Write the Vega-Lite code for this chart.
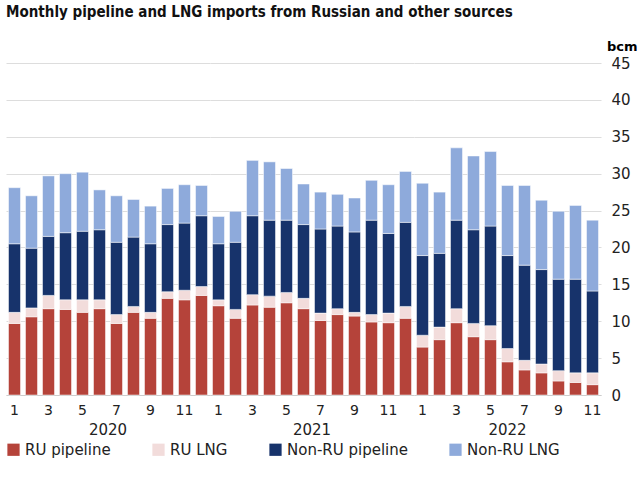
{
  "$schema": "https://vega.github.io/schema/vega-lite/v6.json",
  "title": {"text": "Monthly pipeline and LNG imports from Russian and other sources", "anchor": "start", "fontSize": 15, "font": "DejaVu Sans Condensed", "fontWeight": "bold", "color": "#111", "offset": 20},
  "config": {"font": "DejaVu Sans", "view": {"stroke": null}, "padding": {"left": 6, "top": 5, "right": 4, "bottom": 2}},
  "data": {"values": [
    {"year": "2020", "month": 1, "ru_pipe": 9.7, "ru_lng": 1.5, "nonru_pipe": 9.3, "nonru_lng": 7.6},
    {"year": "2020", "month": 2, "ru_pipe": 10.6, "ru_lng": 1.2, "nonru_pipe": 8.1, "nonru_lng": 7.1},
    {"year": "2020", "month": 3, "ru_pipe": 11.7, "ru_lng": 1.8, "nonru_pipe": 8.0, "nonru_lng": 8.2},
    {"year": "2020", "month": 4, "ru_pipe": 11.6, "ru_lng": 1.3, "nonru_pipe": 9.1, "nonru_lng": 8.0},
    {"year": "2020", "month": 5, "ru_pipe": 11.2, "ru_lng": 1.7, "nonru_pipe": 9.3, "nonru_lng": 8.0},
    {"year": "2020", "month": 6, "ru_pipe": 11.7, "ru_lng": 1.2, "nonru_pipe": 9.5, "nonru_lng": 5.4},
    {"year": "2020", "month": 7, "ru_pipe": 9.7, "ru_lng": 1.2, "nonru_pipe": 9.8, "nonru_lng": 6.3},
    {"year": "2020", "month": 8, "ru_pipe": 11.2, "ru_lng": 0.8, "nonru_pipe": 9.4, "nonru_lng": 5.1},
    {"year": "2020", "month": 9, "ru_pipe": 10.4, "ru_lng": 0.8, "nonru_pipe": 9.3, "nonru_lng": 5.1},
    {"year": "2020", "month": 10, "ru_pipe": 13.1, "ru_lng": 0.9, "nonru_pipe": 9.1, "nonru_lng": 4.9},
    {"year": "2020", "month": 11, "ru_pipe": 12.9, "ru_lng": 1.3, "nonru_pipe": 9.1, "nonru_lng": 5.2},
    {"year": "2020", "month": 12, "ru_pipe": 13.5, "ru_lng": 1.2, "nonru_pipe": 9.6, "nonru_lng": 4.1},
    {"year": "2021", "month": 1, "ru_pipe": 12.1, "ru_lng": 0.8, "nonru_pipe": 7.6, "nonru_lng": 3.7},
    {"year": "2021", "month": 2, "ru_pipe": 10.4, "ru_lng": 1.2, "nonru_pipe": 9.1, "nonru_lng": 4.2},
    {"year": "2021", "month": 3, "ru_pipe": 12.2, "ru_lng": 1.4, "nonru_pipe": 10.7, "nonru_lng": 7.5},
    {"year": "2021", "month": 4, "ru_pipe": 11.9, "ru_lng": 1.5, "nonru_pipe": 10.3, "nonru_lng": 7.9},
    {"year": "2021", "month": 5, "ru_pipe": 12.5, "ru_lng": 1.4, "nonru_pipe": 9.8, "nonru_lng": 7.0},
    {"year": "2021", "month": 6, "ru_pipe": 11.7, "ru_lng": 1.4, "nonru_pipe": 10.0, "nonru_lng": 5.5},
    {"year": "2021", "month": 7, "ru_pipe": 10.1, "ru_lng": 1.0, "nonru_pipe": 11.4, "nonru_lng": 5.0},
    {"year": "2021", "month": 8, "ru_pipe": 10.9, "ru_lng": 0.8, "nonru_pipe": 11.2, "nonru_lng": 4.3},
    {"year": "2021", "month": 9, "ru_pipe": 10.7, "ru_lng": 0.5, "nonru_pipe": 10.9, "nonru_lng": 4.6},
    {"year": "2021", "month": 10, "ru_pipe": 9.9, "ru_lng": 1.0, "nonru_pipe": 12.8, "nonru_lng": 5.4},
    {"year": "2021", "month": 11, "ru_pipe": 9.8, "ru_lng": 1.3, "nonru_pipe": 10.8, "nonru_lng": 6.6},
    {"year": "2021", "month": 12, "ru_pipe": 10.4, "ru_lng": 1.6, "nonru_pipe": 11.4, "nonru_lng": 6.9},
    {"year": "2022", "month": 1, "ru_pipe": 6.5, "ru_lng": 1.6, "nonru_pipe": 10.8, "nonru_lng": 9.8},
    {"year": "2022", "month": 2, "ru_pipe": 7.5, "ru_lng": 1.7, "nonru_pipe": 10.0, "nonru_lng": 8.3},
    {"year": "2022", "month": 3, "ru_pipe": 9.8, "ru_lng": 1.9, "nonru_pipe": 12.0, "nonru_lng": 9.8},
    {"year": "2022", "month": 4, "ru_pipe": 7.9, "ru_lng": 1.8, "nonru_pipe": 12.7, "nonru_lng": 10.0},
    {"year": "2022", "month": 5, "ru_pipe": 7.5, "ru_lng": 1.9, "nonru_pipe": 13.5, "nonru_lng": 10.1},
    {"year": "2022", "month": 6, "ru_pipe": 4.5, "ru_lng": 1.8, "nonru_pipe": 12.6, "nonru_lng": 9.5},
    {"year": "2022", "month": 7, "ru_pipe": 3.4, "ru_lng": 1.3, "nonru_pipe": 12.9, "nonru_lng": 10.8},
    {"year": "2022", "month": 8, "ru_pipe": 3.0, "ru_lng": 1.2, "nonru_pipe": 12.8, "nonru_lng": 9.4},
    {"year": "2022", "month": 9, "ru_pipe": 1.9, "ru_lng": 1.4, "nonru_pipe": 12.4, "nonru_lng": 9.2},
    {"year": "2022", "month": 10, "ru_pipe": 1.7, "ru_lng": 1.3, "nonru_pipe": 12.7, "nonru_lng": 10.0},
    {"year": "2022", "month": 11, "ru_pipe": 1.4, "ru_lng": 1.6, "nonru_pipe": 11.1, "nonru_lng": 9.6}
  ]},
  "transform": [
    {"fold": ["ru_pipe", "ru_lng", "nonru_pipe", "nonru_lng"], "as": ["key", "value"]},
    {"lookup": "key", "from": {"data": {"values": [
      {"key": "ru_pipe", "source": "RU pipeline"},
      {"key": "ru_lng", "source": "RU LNG"},
      {"key": "nonru_pipe", "source": "Non-RU pipeline"},
      {"key": "nonru_lng", "source": "Non-RU LNG"}
    ]}, "key": "key", "fields": ["source"]}}
  ],
  "facet": {"column": {"field": "year", "type": "ordinal", "title": null,
    "header": {"labelOrient": "bottom", "labelFontSize": 15, "labelColor": "#222", "labelPadding": 6}}},
  "spacing": 0,
  "resolve": {"scale": {"x": "independent"}},
  "spec": {
    "width": {"step": 17},
    "height": 332,
    "mark": {"type": "bar", "width": 12, "stroke": "white", "strokeWidth": 0.5},
    "encoding": {
      "x": {"field": "month", "type": "ordinal", "title": null,
        "axis": {"labelAngle": 0, "labelExpr": "datum.value % 2 == 1 ? datum.value : ''", "labelFontSize": 14, "labelColor": "#222", "ticks": false, "domainColor": "#ccc", "labelPadding": 8}},
      "y": {"field": "value", "type": "quantitative", "stack": "zero", "scale": {"domain": [0, 45]},
        "axis": {"orient": "right", "values": [0,5,10,15,20,25,30,35,40,45], "title": "bcm", "titleAngle": 0, "titleAnchor": "end", "titleAlign": "right", "titleBaseline": "bottom", "titleY": -10, "titleX": 36, "titleFontSize": 13, "titleFontWeight": "bold", "labelFontSize": 15, "labelColor": "#222", "ticks": false, "domain": false, "gridColor": "#ddd", "labelPadding": 10}},
      "color": {"field": "source", "type": "nominal", "sort": ["RU pipeline", "RU LNG", "Non-RU pipeline", "Non-RU LNG"],
        "scale": {"domain": ["RU pipeline", "RU LNG", "Non-RU pipeline", "Non-RU LNG"], "range": ["#b5433a", "#f2dcdb", "#17336b", "#8eaadb"]},
        "legend": {"orient": "bottom", "direction": "horizontal", "title": null, "symbolType": "square", "symbolSize": 150, "labelFontSize": 15, "labelColor": "#222", "columnPadding": 40, "symbolStrokeWidth": 0, "offset": 4}}
    }
  }
}
